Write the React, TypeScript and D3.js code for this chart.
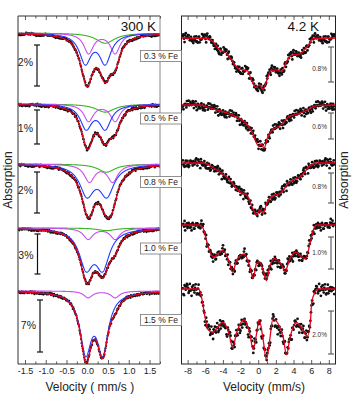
import React from 'react';
import * as d3 from 'd3';

// ---------- data ----------
const samples = ['0.3 % Fe', '0.5 % Fe', '0.8 % Fe', '1.0 % Fe', '1.5 % Fe'];
const xTicks300 = [-1.5, -1.0, -0.5, 0.0, 0.5, 1.0, 1.5];
const xTicks4K = [-8, -6, -4, -2, 0, 2, 4, 6, 8];
const bar300 = [2, 1, 2, 3, 7];          // scale bar (%)
const bar4K = [0.8, 0.6, 0.8, 1.0, 2.0]; // scale bar (%)

// 300 K fit components: [line1, line2, FWHM, depth %]
const blueDoublet = [
  [-0.06, 0.42, 0.34, 1.41],
  [-0.04, 0.42, 0.34, 0.69],
  [-0.02, 0.46, 0.42, 1.43],
  [-0.04, 0.36, 0.40, 2.75],
  [-0.05, 0.36, 0.33, 7.76],
];
const magentaDoublet = [
  [0.02, 0.66, 0.28, 0.98],
  [0.02, 0.66, 0.28, 0.50],
  [0.04, 0.60, 0.30, 0.85],
  [0.01, 0.66, 0.28, 0.83],
  [0.01, 0.66, 0.25, 0.90],
];
// singlet: [centre, FWHM, depth %]
const greenSinglet = [
  [0.42, 0.55, 0.50],
  [0.42, 0.55, 0.24],
  [0.45, 0.50, 0.40],
  [0.45, 0.50, 0.20],
  [0.45, 0.50, 0.0],
];

// 4.2 K fitted curves: [velocity, absorption %]
const fit4K_03 = [[-8.75,0],[-5.75,0.01],[-5.2,0.08],[-4.45,0.27],[-3.7,0.34],[-3.1,0.5],[-2.4,0.69],[-1.8,0.73],[-1.25,0.75],[-0.9,0.92],[-0.33,1.13],[0.12,1.07],[0.5,1.17],[1.0,0.92],[1.36,0.75],[2.1,0.73],[2.6,0.77],[3.05,0.58],[3.6,0.41],[4.73,0.35],[5.5,0.2],[6.2,0.01],[8.7,0]];
const fit4K_05 = [[-8.75,0],[-6.5,0],[-5.5,0.07],[-4.45,0.13],[-2.8,0.25],[-1.3,0.45],[-0.6,0.7],[0.0,0.95],[0.3,0.9],[0.6,1.0],[1.0,0.75],[1.5,0.58],[2.5,0.47],[3.4,0.27],[4.5,0.2],[5.5,0.12],[6.4,0.02],[8.7,0]];
const fit4K_08 = [[-8.75,0],[-6.3,0],[-4.8,0.18],[-3.3,0.45],[-2.2,0.76],[-1.25,0.89],[-0.7,1.2],[-0.25,1.38],[0.12,1.25],[0.5,1.33],[1.0,1.02],[1.55,0.89],[2.5,0.8],[3.4,0.53],[4.75,0.36],[5.85,0.07],[6.5,0],[8.7,0]];
const fit4K_10 = [[-8.75,0],[-6.7,0],[-6.3,0.1],[-5.9,0.5],[-5.5,0.85],[-5.1,1.0],[-4.1,0.8],[-3.4,1.1],[-2.95,1.47],[-2.5,1.1],[-1.65,0.9],[-1.0,1.3],[-0.63,1.67],[-0.25,1.2],[0.05,1.15],[0.5,1.4],[0.87,1.74],[1.25,1.3],[1.8,1.05],[2.6,1.25],[3.0,1.46],[3.4,1.15],[4.2,0.85],[4.9,1.0],[5.3,1.05],[5.8,0.6],[6.2,0.15],[6.6,0],[8.7,0]];
const fit4K_15 = [[-8.75,0],[-6.8,0],[-6.5,0.34],[-6.1,1.27],[-5.75,1.89],[-5.2,2.02],[-4.7,1.8],[-4.1,1.55],[-3.35,2.1],[-2.95,2.74],[-2.55,2.1],[-1.65,1.43],[-1.0,2.1],[-0.63,2.82],[-0.25,2.1],[0.05,1.43],[0.5,2.35],[0.87,3.29],[1.25,2.35],[1.6,1.4],[2.75,2.2],[3.15,3.06],[3.55,2.25],[4.25,1.55],[5.0,1.9],[5.5,2.2],[5.85,1.57],[6.0,0.64],[6.35,0.17],[6.75,0],[8.7,0]];
const fits4K = [fit4K_03, fit4K_05, fit4K_08, fit4K_10, fit4K_15];

// scatter of measured points about the fits (residual pattern, units of noise level)
const residual = [0.3,-0.8,0.5,1.0,-0.2,-0.6,0.9,-1.0,0.1,0.7,-0.4,-0.9,0.6,0.2,-0.3,0.8,-0.7,0.4,-0.1,1.0,-0.5,0.0,0.6,-0.8,0.3,-0.2,0.9,-0.6,0.5,-0.9,0.2,0.7,-0.4,0.1,-1.0,0.8,-0.3];
const noise300 = [0.06, 0.035, 0.06, 0.09, 0.16];
const noise4K = [0.1, 0.1, 0.11, 0.15, 0.24];

// ---------- layout ----------
const FONT = 'Liberation Sans, Arial, Helvetica, sans-serif';
const PL = { x0: 18, x1: 160, y0: 16, y1: 364 };
const PR = { x0: 181.5, x1: 335.5, y0: 16, y1: 364 };
const base300 = [33, 104, 164, 228, 291];
const barTop300 = [45, 110, 172, 234, 300];
const barLen300 = [41, 34, 41, 40, 52];
const barX300 = [37, 37, 37, 37.5, 40];
const lblY300 = [62, 128, 190, 255, 325];
const boxY = [56, 118.5, 182, 248.5, 320];
const base4K = [38, 105, 163, 225, 289];
const barTop4K = [47, 113, 173, 237, 311];
const barLen4K = [35, 26, 30, 32, 43];
const lblY4K = [69, 127, 187, 253, 335];

const xL = d3.scaleLinear().domain([-1.68, 1.74]).range([PL.x0, PL.x1]);
const xR = d3.scaleLinear().domain([-8.75, 8.7]).range([PR.x0, PR.x1]);

const lor = (v: number, c: number, w: number) => 1 / (1 + ((v - c) / (w / 2)) ** 2);
const res = (i: number, k: number) => {
  const n = residual.length;
  return 0.7 * (residual[(i * 13 + k * 5) % n] + residual[(i * 7 + k * 11 + 3) % n]);
};

const COLORS = { red: '#e8001c', blue: '#1f3cff', magenta: '#c84ef0', green: '#39b523' };

export default function App() {
  const vFine = d3.range(-1.68, 1.741, 0.004);
  const vPts = d3.range(-1.66, 1.73, 0.0125);
  const vPtsR = d3.range(-8.6, 8.6, 0.066);

  const left = samples.map((s, k) => {
    const y = d3.scaleLinear().domain([0, bar300[k]]).range([base300[k], base300[k] + barLen300[k]]);
    const [b1, b2, bw, bd] = blueDoublet[k];
    const [m1, m2, mw, md] = magentaDoublet[k];
    const [gc, gw, gd] = greenSinglet[k];
    const blue = (v: number) => bd * (lor(v, b1, bw) + lor(v, b2, bw));
    const mag = (v: number) => md * (lor(v, m1, mw) + lor(v, m2, mw));
    const grn = (v: number) => gd * lor(v, gc, gw);
    const tot = (v: number) => blue(v) + mag(v) + grn(v);
    const line = (f: (v: number) => number) =>
      d3.line<number>().x((v) => xL(v)).y((v) => y(f(v)))(vFine) || '';
    const pts = vPts.map((v, i) => [xL(v), y(tot(v) + noise300[k] * res(i, k))]);
    return { y, blue: line(blue), mag: line(mag), grn: gd > 0 ? line(grn) : null, tot: line(tot), pts };
  });

  const right = samples.map((s, k) => {
    const y = d3.scaleLinear().domain([0, bar4K[k]]).range([base4K[k], base4K[k] + barLen4K[k]]);
    const fit = fits4K[k];
    const interp = d3.scaleLinear().domain(fit.map((d) => d[0])).range(fit.map((d) => d[1]));
    const path = d3.line<number[]>().x((d) => xR(d[0])).y((d) => y(d[1])).curve(d3.curveMonotoneX)(fit) || '';
    const pts = vPtsR.map((v, i) => [xR(v), y(interp(v) + noise4K[k] * res(i, k + 2))]);
    return { path, pts };
  });

  const ticksL = d3.range(-1.5, 1.76, 0.25);
  const ticksR = d3.range(-8, 8.1, 1);

  const bar = (x: number, y0: number, len: number, color: string, w: number) => (
    <g stroke={color} strokeWidth={w}>
      <line x1={x} x2={x} y1={y0} y2={y0 + len} />
      <line x1={x - 3} x2={x + 3} y1={y0} y2={y0} />
      <line x1={x - 3} x2={x + 3} y1={y0 + len} y2={y0 + len} />
    </g>
  );

  return (
    <svg width={352} height={395} style={{ position: 'absolute', left: 0, top: 0, background: '#fff' }} fontFamily={FONT}>
      <defs>
        <clipPath id="clipL"><rect x={PL.x0} y={PL.y0} width={PL.x1 - PL.x0} height={PL.y1 - PL.y0} /></clipPath>
        <clipPath id="clipR"><rect x={PR.x0} y={PR.y0} width={PR.x1 - PR.x0} height={PR.y1 - PR.y0} /></clipPath>
      </defs>
      <rect width={352} height={395} fill="#fff" />

      {/* left panel */}
      <g clipPath="url(#clipL)">
        {left.map((sp, k) => (
          <g key={k}>
            {sp.pts.map((p, i) => <circle key={i} cx={p[0]} cy={p[1]} r={1.15} fill="#111" />)}
            {sp.grn && <path d={sp.grn} fill="none" stroke={COLORS.green} strokeWidth={1.1} />}
            <path d={sp.mag} fill="none" stroke={COLORS.magenta} strokeWidth={1.1} />
            <path d={sp.blue} fill="none" stroke={COLORS.blue} strokeWidth={1.1} />
            <path d={sp.tot} fill="none" stroke={COLORS.red} strokeWidth={1.3} />
          </g>
        ))}
      </g>
      {left.map((sp, k) => (
        <g key={k}>
          {bar(barX300[k], barTop300[k], barLen300[k], '#111', 1.2)}
          <text x={barX300[k] - 4} y={lblY300[k]} dy="0.35em" textAnchor="end" fontSize={10.5} fill="#222">{bar300[k]}%</text>
        </g>
      ))}
      <line x1={PL.x0} x2={PL.x1} y1={PL.y0} y2={PL.y0} stroke="#333" />
      <line x1={PL.x0} x2={PL.x1} y1={PL.y1} y2={PL.y1} stroke="#333" />
      <line x1={PL.x0} x2={PL.x0} y1={PL.y0} y2={PL.y1} stroke="#333" />
      <line x1={PL.x1} x2={PL.x1} y1={PL.y0} y2={PL.y1} stroke="#888" />
      {ticksL.map((t, i) => {
        const major = Math.abs(t * 2 - Math.round(t * 2)) < 1e-6;
        const len = major ? 4 : 2.5;
        return (
          <g key={i} stroke="#333" strokeWidth={0.8}>
            <line x1={xL(t)} x2={xL(t)} y1={PL.y1} y2={PL.y1 - len} />
            <line x1={xL(t)} x2={xL(t)} y1={PL.y0} y2={PL.y0 + len} />
          </g>
        );
      })}
      {xTicks300.map((t, i) => (
        <text key={i} x={xL(t)} y={371} dy="0.35em" textAnchor="middle" fontSize={9} fill="#222">{t.toFixed(1)}</text>
      ))}
      <text x={xL(0.05)} y={391} textAnchor="middle" fontSize={12} fill="#222">Velocity ( mm/s )</text>
      <text x={156} y={31} textAnchor="end" fontSize={13.5} fill="#111">300 K</text>
      <text transform="translate(12,180) rotate(-90)" textAnchor="middle" fontSize={12} fill="#222">Absorption</text>

      {/* right panel */}
      <g clipPath="url(#clipR)">
        {right.map((sp, k) => (
          <g key={k}>
            {sp.pts.map((p, i) => <circle key={i} cx={p[0]} cy={p[1]} r={1.4} fill="#111" />)}
            <path d={sp.path} fill="none" stroke={COLORS.red} strokeWidth={1.3} />
          </g>
        ))}
      </g>
      {right.map((sp, k) => (
        <g key={k}>
          {bar(331, barTop4K[k], barLen4K[k], '#555', 1.1)}
          <text x={327} y={lblY4K[k]} dy="0.35em" textAnchor="end" fontSize={6.5} fill="#333">{bar4K[k].toFixed(1)}%</text>
        </g>
      ))}
      <rect x={PR.x0} y={PR.y0} width={PR.x1 - PR.x0} height={PR.y1 - PR.y0} fill="none" stroke="#222" />
      {ticksR.map((t, i) => {
        const len = Math.round(t) % 2 === 0 ? 4 : 2.5;
        return (
          <g key={i} stroke="#333" strokeWidth={0.8}>
            <line x1={xR(t)} x2={xR(t)} y1={PR.y1} y2={PR.y1 - len} />
            <line x1={xR(t)} x2={xR(t)} y1={PR.y0} y2={PR.y0 + len} />
          </g>
        );
      })}
      {xTicks4K.map((t, i) => (
        <text key={i} x={xR(t)} y={371} dy="0.35em" textAnchor="middle" fontSize={9} fill="#222">{t}</text>
      ))}
      <text x={264} y={391} textAnchor="middle" fontSize={12} fill="#222">Velocity (mm/s)</text>
      <text x={319} y={31} textAnchor="end" fontSize={13.5} fill="#111">4.2 K</text>
      <text transform="translate(348,180) rotate(-90)" textAnchor="middle" fontSize={12} fill="#222">Absorption</text>

      {/* sample labels */}
      {samples.map((s, k) => (
        <g key={k}>
          <rect x={140.5} y={boxY[k] - 5.5} width={41} height={11} fill="#fff" stroke="#777" strokeWidth={0.8} />
          <text x={161} y={boxY[k]} dy="0.35em" textAnchor="middle" fontSize={8.5} fill="#222">{s}</text>
        </g>
      ))}
    </svg>
  );
}
